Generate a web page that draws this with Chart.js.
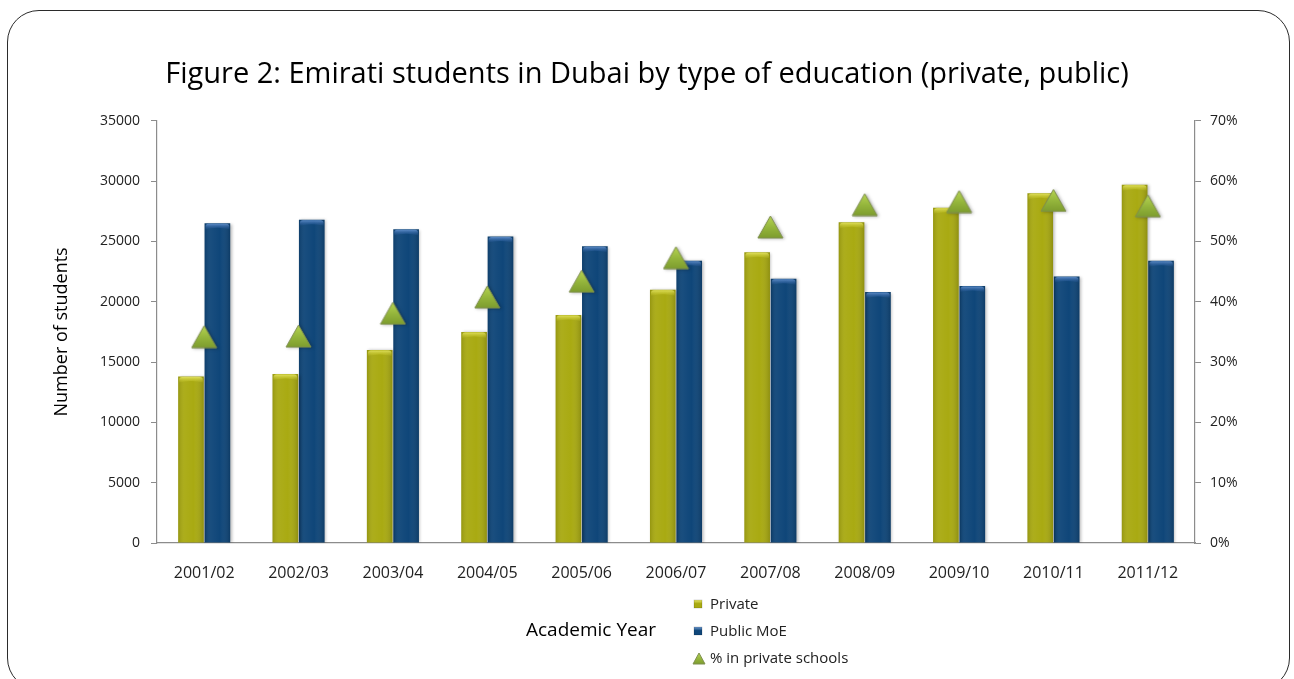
<!DOCTYPE html>
<html>
<head>
<meta charset="utf-8">
<script src="https://cdn.jsdelivr.net/npm/chart.js@4/dist/chart.umd.min.js"></script>
<style>
  html, body { margin: 0; padding: 0; background: #fff; }
  body { width: 1294px; height: 679px; position: relative; overflow: hidden; }
  #card {
    position: absolute; left: 7px; top: 10px; width: 1283px; height: 680px;
    border: 1.5px solid #2b2b2b; border-radius: 32px; box-sizing: border-box;
  }
  #wrap { position: absolute; left: 0; top: 0; width: 1294px; height: 679px; }
</style>
</head>
<body>
<div id="card"></div>
<div id="wrap"><canvas id="chart" width="1294" height="679"></canvas></div>
<script>
// Academic years on the category axis
const years = ['2001/02', '2002/03', '2003/04', '2004/05', '2005/06', '2006/07',
               '2007/08', '2008/09', '2009/10', '2010/11', '2011/12'];

// Emirati students enrolled in private schools
const privateStudents = [13800, 14000, 16000, 17500, 18900, 21000, 24100, 26600, 27800, 29000, 29700];

// Emirati students enrolled in public (Ministry of Education) schools
const publicStudents = [26500, 26800, 26000, 25400, 24600, 23400, 21900, 20800, 21300, 22100, 23400];

// Share of Emirati students in private schools (%)
const privateShare = [34.2, 34.3, 38.1, 40.8, 43.4, 47.3, 52.4, 56.1, 56.6, 56.8, 55.9];

// Axis tick values
const studentTicks = [0, 5000, 10000, 15000, 20000, 25000, 30000, 35000];
const shareTicks = [0, 10, 20, 30, 40, 50, 60, 70];

const FONT = "'Open Sans', 'Noto Sans', sans-serif";
const OLIVE = '#a9aa12';
const NAVY = '#0f4679';
const LEAF = '#93b43b';

// Triangle marker with its bounding box centred on the value
function makeTriangle(size) {
  const w = size, h = Math.round(size * 0.88);
  const c = document.createElement('canvas');
  c.width = w + 2; c.height = h + 2;
  const g = c.getContext('2d');
  const grad = g.createLinearGradient(0, 1, 0, h + 1);
  grad.addColorStop(0, '#b6d452');
  grad.addColorStop(0.55, '#93b43b');
  grad.addColorStop(1, '#7d9c2e');
  g.beginPath();
  g.moveTo(w / 2 + 1, 1);
  g.lineTo(w + 1, h + 1);
  g.lineTo(1, h + 1);
  g.closePath();
  g.fillStyle = grad;
  g.fill();
  g.lineWidth = 1;
  g.strokeStyle = '#7f8f4f';
  g.stroke();
  return c;
}
const triangleMarker = makeTriangle(25);
const legendTriangle = makeTriangle(12);

// Glossy shading laid over each bar drawn by the library
const barGloss = {
  id: 'barGloss',
  beforeDatasetDraw(chart) {
    const ctx = chart.ctx;
    ctx.save();
    ctx.shadowColor = 'rgba(0,0,0,0.28)';
    ctx.shadowBlur = 3;
    ctx.shadowOffsetX = 1.5;
    ctx.shadowOffsetY = 0.5;
  },
  afterDatasetDraw(chart, args) {
    const ctx = chart.ctx;
    ctx.restore();
    const meta = args.meta;
    if (meta.type !== 'bar') return;
    const isPrivate = meta.index === 0;
    ctx.save();
    meta.data.forEach(bar => {
      const p = bar.getProps(['x', 'y', 'base', 'width'], true);
      const left = p.x - p.width / 2, right = p.x + p.width / 2;
      const top = p.y, bottom = p.base;
      // horizontal shading
      const hg = ctx.createLinearGradient(left, 0, right, 0);
      hg.addColorStop(0, 'rgba(0,0,0,0.12)');
      hg.addColorStop(0.25, 'rgba(255,255,255,0.04)');
      hg.addColorStop(0.6, 'rgba(255,255,255,0.0)');
      hg.addColorStop(1, 'rgba(0,0,0,0.16)');
      ctx.fillStyle = hg;
      ctx.fillRect(left, top, right - left, bottom - top);
      // rounded top cap
      const capH = 6;
      const cg = ctx.createLinearGradient(0, top, 0, top + capH);
      if (isPrivate) {
        cg.addColorStop(0, 'rgba(235,235,110,0.9)');
        cg.addColorStop(1, 'rgba(200,200,40,0.15)');
      } else {
        cg.addColorStop(0, 'rgba(110,155,215,0.9)');
        cg.addColorStop(1, 'rgba(40,90,160,0.15)');
      }
      ctx.fillStyle = cg;
      ctx.beginPath();
      ctx.moveTo(left + 1, top + capH);
      ctx.lineTo(left + 1, top + 3);
      ctx.quadraticCurveTo(left + 1, top + 0.5, left + 4, top + 0.5);
      ctx.lineTo(right - 4, top + 0.5);
      ctx.quadraticCurveTo(right - 1, top + 0.5, right - 1, top + 3);
      ctx.lineTo(right - 1, top + capH);
      ctx.quadraticCurveTo(p.x, top + capH - 3, left + 1, top + capH);
      ctx.fill();
    });
    ctx.restore();
  }
};

// Axis title and the stacked legend under the category axis
const bottomLegend = {
  id: 'bottomLegend',
  afterDraw(chart) {
    const ctx = chart.ctx;
    ctx.save();
    ctx.fillStyle = '#000';
    ctx.font = `500 19px ${FONT}`;
    ctx.textBaseline = 'middle';
    ctx.textAlign = 'center';
    ctx.fillText('Academic Year', 591, 631);

    const rows = [604, 631, 658];
    ctx.textAlign = 'left';
    ctx.font = `15px ${FONT}`;
    chart.data.datasets.forEach((ds, i) => {
      const y = rows[i];
      if (ds.type === 'line') {
        ctx.drawImage(legendTriangle, 692, y - 6);
      } else {
        const g = ctx.createLinearGradient(0, y - 4, 0, y + 4);
        g.addColorStop(0, ds.label === 'Private' ? '#e6e66a' : '#6f9ad0');
        g.addColorStop(0.45, ds.backgroundColor);
        g.addColorStop(1, ds.backgroundColor);
        ctx.fillStyle = g;
        ctx.fillRect(694, y - 4, 8, 8);
        ctx.strokeStyle = 'rgba(0,0,0,0.25)';
        ctx.lineWidth = 0.6;
        ctx.strokeRect(694, y - 4, 8, 8);
      }
      ctx.fillStyle = '#222';
      ctx.fillText(ds.label, 710, y + 1);
    });
    ctx.restore();
  }
};

new Chart(document.getElementById('chart'), {
  data: {
    labels: years,
    datasets: [
      {
        type: 'bar', label: 'Private', data: privateStudents,
        backgroundColor: OLIVE, yAxisID: 'y', order: 2,
        categoryPercentage: 0.56, barPercentage: 0.97
      },
      {
        type: 'bar', label: 'Public MoE', data: publicStudents,
        backgroundColor: NAVY, yAxisID: 'y', order: 2,
        categoryPercentage: 0.56, barPercentage: 0.97
      },
      {
        type: 'line', label: '% in private schools', data: privateShare,
        yAxisID: 'y1', order: 0, showLine: false,
        pointStyle: triangleMarker, pointRadius: 12, pointHoverRadius: 12,
        backgroundColor: LEAF, borderColor: LEAF
      }
    ]
  },
  options: {
    responsive: false,
    animation: false,
    events: [],
    layout: { padding: { top: 0, left: 45, right: 45, bottom: 96 } },
    plugins: {
      legend: { display: false },
      tooltip: { enabled: false },
      title: {
        display: true,
        text: 'Figure 2: Emirati students in Dubai by type of education (private, public)',
        color: '#000',
        font: { family: FONT, size: 29, weight: '500' },
        padding: { top: 57, bottom: 29 }
      }
    },
    scales: {
      x: {
        offset: true,
        grid: { display: false },
        border: { display: true, color: '#8c8c8c', width: 1.2 },
        ticks: { color: '#222', padding: 13, font: { family: FONT, size: 16 } },
        afterFit(scale) { scale.height = 40; }
      },
      y: {
        position: 'left', min: 0, max: 35000,
        afterBuildTicks(scale) { scale.ticks = studentTicks.map(v => ({ value: v })); },
        grid: { drawOnChartArea: false, drawTicks: true, tickLength: 6, color: '#8c8c8c' },
        border: { display: true, color: '#8c8c8c', width: 1.2 },
        ticks: { color: '#222', padding: 11, font: { family: FONT, size: 14 },
                 callback: v => String(v) },
        title: { display: true, text: 'Number of students', color: '#000',
                 font: { family: FONT, size: 18, weight: '500' }, padding: { top: 6, bottom: 0 } },
        afterFit(scale) { scale.width = 112; }
      },
      y1: {
        position: 'right', min: 0, max: 70,
        afterBuildTicks(scale) { scale.ticks = shareTicks.map(v => ({ value: v })); },
        grid: { drawOnChartArea: false, drawTicks: true, tickLength: 6, color: '#8c8c8c' },
        border: { display: true, color: '#8c8c8c', width: 1.2 },
        ticks: { color: '#222', padding: 9, font: { family: FONT, size: 14 },
                 callback: v => v + '%' },
        afterFit(scale) { scale.width = 54; }
      }
    }
  },
  plugins: [barGloss, bottomLegend]
});
</script>
</body>
</html>
